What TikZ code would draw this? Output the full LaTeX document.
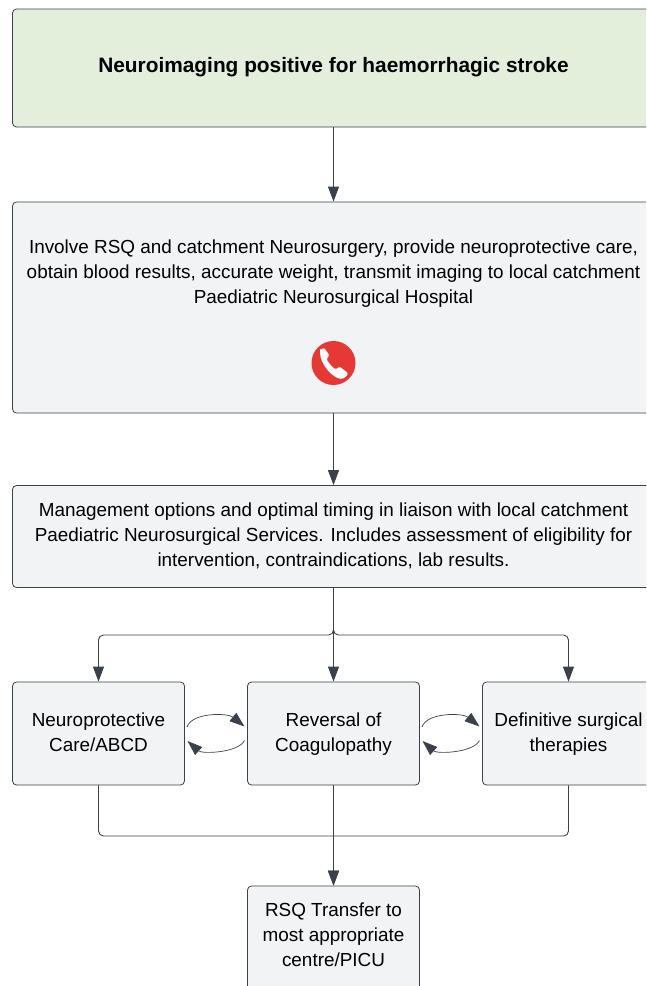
\documentclass[tikz,border=0pt]{standalone}
\usepackage{fontspec}
\setmainfont{Liberation Sans}
\usetikzlibrary{arrows.meta,calc}
\definecolor{linec}{HTML}{3A414A}
\definecolor{boxfill}{HTML}{F2F3F5}
\definecolor{greenfill}{HTML}{E3EFDA}
\definecolor{phonered}{HTML}{E53935}
\tikzset{
  x=1pt,y=-1pt,
  flowbox/.style={draw=linec,line width=0.8pt,fill=boxfill,rounded corners=4pt,inner sep=0pt},
  txt/.style={align=center,inner sep=0pt,font=\fontsize{18.9}{25}\selectfont,text=black},
  conn/.style={draw=linec,line width=0.9pt,rounded corners=5pt},
  arr/.style={conn,-{Triangle[length=15pt,width=11pt,fill=linec]}},
  cyc/.style={draw=linec,line width=0.7pt,-{Triangle[length=15pt,width=10.5pt,fill=linec]}},
}
\newcommand{\boxat}[6][boxfill]{\node[flowbox,fill=#1,minimum width=#4pt,minimum height=#5pt] (#6) at (#2,#3) {};}
\begin{document}
\begin{tikzpicture}
\useasboundingbox (0,0) rectangle (646,986);
\clip (0,0) rectangle (646,986);
\boxat[greenfill]{333.5}{68}{642}{118}{top}
\boxat{333.5}{307.5}{642}{211}{rsq}
\boxat{333.5}{536.5}{642}{102}{mgmt}
\boxat{98.5}{733.5}{172}{103}{neuro}
\boxat{333.5}{733.5}{172}{103}{rev}
\boxat{568.5}{733.5}{172}{103}{surg}
\boxat{333.5}{941}{172}{110}{trans}
\node[txt,font=\fontsize{20.85}{25}\selectfont\bfseries] (toptxt) at (333.5,67.5) {Neuroimaging positive for haemorrhagic stroke};
\node[txt] (rsqtxt) at (333.5,273.7) {Involve RSQ and catchment Neurosurgery, provide neuroprotective care,\\obtain blood results, accurate weight, transmit imaging to local catchment\\Paediatric Neurosurgical Hospital};
\node[txt] (mgmttxt) at (333.5,535.6) {Management options and optimal timing in liaison with local catchment\\Paediatric Neurosurgical Services. Includes assessment of eligibility for\\intervention, contraindications, lab results.};
\node[txt] (neurotxt) at (98.5,732) {Neuroprotective\\Care/ABCD};
\node[txt] (revtxt) at (333.5,734) {Reversal of\\Coagulopathy};
\node[txt] (surgtxt) at (568.5,734) {Definitive surgical\\therapies};
\node[txt] (transtxt) at (333.5,935) {RSQ Transfer to\\most appropriate\\centre/PICU};
% phone icon
\node[circle,fill=phonered,minimum size=44pt,inner sep=0pt] (phone) at (333.5,363) {};
\fill[white,rounded corners=1.5pt] (320,350.5) -- (324,347.5) -- (329.5,355.5) -- (326.5,358.5)
  .. controls (328,362) and (332,367) .. (336,369.5)
  -- (339.5,366.5) -- (348.5,373.5) -- (345,377.5) -- (342,379)
  .. controls (333,378) and (320,365) .. (320,350.5) -- cycle;
% connectors
\draw[arr] (top.south) -- (rsq.north);
\draw[arr] (rsq.south) -- (mgmt.north);
\coordinate (splity) at (333.5,635);
\coordinate (mergey) at (333.5,836);
\draw[arr] (mgmt.south) -- (splity) -| (neuro.north);
\draw[arr] (mgmt.south) -- (rev.north);
\draw[arr] (mgmt.south) -- (splity) -| (surg.north);
\draw[conn] (neuro.south) |- (mergey);
\draw[conn] (surg.south) |- (mergey);
\draw[arr] (rev.south) -- (trans.north);
\draw[arr] (mergey) -- (trans.north);
% cycle arrows
\coordinate (c1a) at (187,727); \coordinate (c1b) at (244.5,726.5);
\coordinate (c1c) at (244.5,740.5); \coordinate (c1d) at (187.5,741);
\draw[cyc] (c1a) .. controls (192,712) and (228,713) .. (c1b);
\draw[cyc] (c1c) .. controls (238,753) and (202,754) .. (c1d);
\coordinate (c2a) at (422,727); \coordinate (c2b) at (479.5,726.5);
\coordinate (c2c) at (479.5,740.5); \coordinate (c2d) at (422.5,741);
\draw[cyc] (c2a) .. controls (427,712) and (463,713) .. (c2b);
\draw[cyc] (c2c) .. controls (473,753) and (437,754) .. (c2d);
\end{tikzpicture}
\end{document}
